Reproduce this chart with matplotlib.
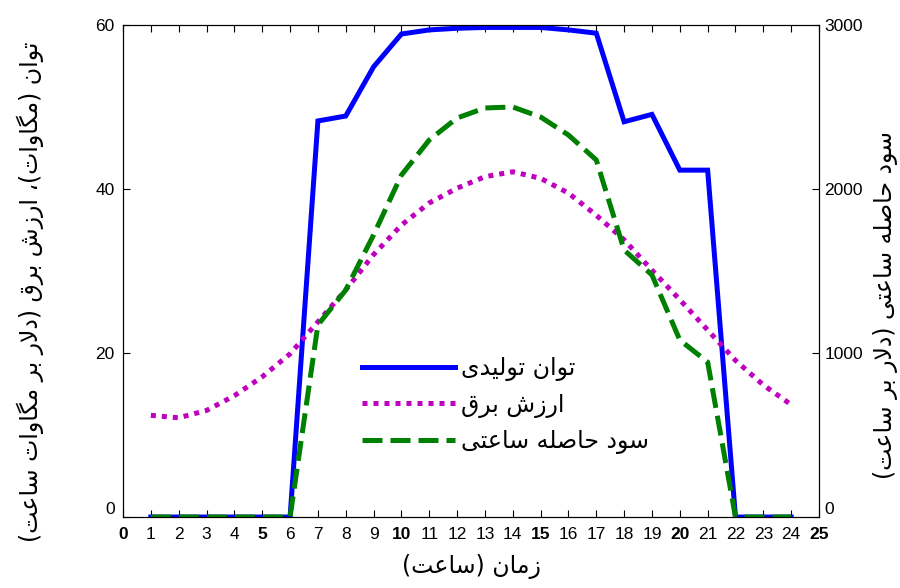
# -*- coding: utf-8 -*-
import numpy as np
import matplotlib
matplotlib.use("Agg")
import matplotlib.pyplot as plt

# datos
horas = list(range(1, 25))
potencia = [0, 0, 0, 0, 0, 0, 48.3, 48.9, 54.9, 58.9, 59.4, 59.6,
            59.7, 59.7, 59.7, 59.4, 59.0, 48.2, 49.1, 42.3, 42.3, 0, 0, 0]
precio = [12.4, 12.1, 13.0, 14.8, 17.1, 19.9, 23.8, 27.7, 32.0, 35.6, 38.3, 40.1,
          41.5, 42.1, 41.3, 39.5, 36.8, 33.8, 30.1, 26.5, 22.8, 19.1, 16.1, 13.7]
beneficio = [0, 0, 0, 0, 0, 0, 1171, 1384, 1720, 2085, 2299, 2433,
             2494, 2500, 2439, 2329, 2177, 1628, 1476, 1079, 945, 0, 0, 0]

txt_ylabel = "توان (مگاوات)، ارزش برق (دلار بر مگاوات ساعت)"
txt_y2label = "سود حاصله ساعتی (دلار بر ساعت)"
txt_xlabel = "زمان (ساعت)"
txt_leyenda = ["توان تولیدی", "ارزش برق", "سود حاصله ساعتی"]

# formas de presentacion (aislada, final, inicial, media)
formas = {
    "ا": ("\uFE8D", "\uFE8E"), "ب": ("\uFE8F", "\uFE90", "\uFE91", "\uFE92"),
    "ت": ("\uFE95", "\uFE96", "\uFE97", "\uFE98"), "ح": ("\uFEA1", "\uFEA2", "\uFEA3", "\uFEA4"),
    "د": ("\uFEA9", "\uFEAA"), "ر": ("\uFEAD", "\uFEAE"), "ز": ("\uFEAF", "\uFEB0"),
    "س": ("\uFEB1", "\uFEB2", "\uFEB3", "\uFEB4"), "ش": ("\uFEB5", "\uFEB6", "\uFEB7", "\uFEB8"),
    "ص": ("\uFEB9", "\uFEBA", "\uFEBB", "\uFEBC"), "ع": ("\uFEC9", "\uFECA", "\uFECB", "\uFECC"),
    "ق": ("\uFED5", "\uFED6", "\uFED7", "\uFED8"), "ل": ("\uFEDD", "\uFEDE", "\uFEDF", "\uFEE0"),
    "م": ("\uFEE1", "\uFEE2", "\uFEE3", "\uFEE4"), "ن": ("\uFEE5", "\uFEE6", "\uFEE7", "\uFEE8"),
    "ه": ("\uFEE9", "\uFEEA", "\uFEEB", "\uFEEC"), "و": ("\uFEED", "\uFEEE"),
    "ی": ("\uFBFC", "\uFBFD", "\uFBFE", "\uFBFF"), "گ": ("\uFB92", "\uFB93", "\uFB94", "\uFB95"),
}
espejo = {"(": ")", ")": "("}


def rtl(s):
    out = []
    i = 0
    n = len(s)
    while i < n:
        c = s[i]
        prev = s[i - 1] if i > 0 else ""
        une_prev = prev in formas and len(formas[prev]) == 4
        if c == "ل" and i + 1 < n and s[i + 1] == "ا":
            out.append("\uFEFC" if une_prev else "\uFEFB")
            i += 2
            continue
        if c in formas:
            f = formas[c]
            sig = s[i + 1] if i + 1 < n else ""
            une_sig = len(f) == 4 and sig in formas
            if une_prev and une_sig:
                out.append(f[3])
            elif une_prev:
                out.append(f[1])
            elif une_sig:
                out.append(f[2])
            else:
                out.append(f[0])
        else:
            out.append(c)
        i += 1
    return "".join(espejo.get(c, c) for c in reversed(out))


plt.rcParams['font.family'] = ['DejaVu Sans']
fig = plt.figure(figsize=(9, 5.88), dpi=100)
ax = fig.add_axes([0.1367, 0.1207, 0.7733, 0.8368])
ax2 = ax.twinx()

l1, = ax.plot(horas, potencia, color='#0000ff', lw=3.6, solid_joinstyle='miter')
l2, = ax.plot(horas, precio, color='#bf00bf', lw=3.6, linestyle=(0, (1, 1.2)))
l3, = ax2.plot(horas, beneficio, color='#008000', lw=3.6, linestyle=(0, (4, 1.6)))

ax.set_xlim(0, 25)
ax.set_ylim(0, 60)
ax2.set_ylim(0, 3000)
ax.set_xticks(range(0, 26))
ax.set_yticks([0, 20, 40, 60])
ax2.set_yticks([0, 1000, 2000, 3000])

fuente_ticks = 'Liberation Sans'
ax.tick_params(axis='x', direction='in', top=True, length=5, labelsize=12.5, pad=7)
ax.tick_params(axis='y', direction='in', length=5, labelsize=12.5, pad=6)
ax2.tick_params(axis='y', direction='in', length=5, labelsize=12.5, pad=4)
for lab in ax.get_xticklabels() + ax.get_yticklabels() + ax2.get_yticklabels():
    lab.set_fontfamily(fuente_ticks)
for k, lab in enumerate(ax.get_xticklabels()):
    if k % 5 == 0:
        lab.set_fontweight('bold')
# etiquetas 0 de los ejes y algo levantadas como en la figura
ax.get_yticklabels()[0].set_va('bottom')
ax2.get_yticklabels()[0].set_va('bottom')

ax.set_xlabel(rtl(txt_xlabel), fontsize=17)
ax.xaxis.set_label_coords(0.5, -0.075)
ax.set_ylabel(rtl(txt_ylabel), fontsize=17)
ax.yaxis.set_label_coords(-0.113, 0.457)
ax2.set_ylabel(rtl(txt_y2label), fontsize=17)
ax2.yaxis.set_label_coords(1.077, 0.43)

leg = ax.legend([l1, l2, l3], [rtl(t) for t in txt_leyenda], loc='upper left',
                bbox_to_anchor=(0.313, 0.37), frameon=False, fontsize=17,
                handlelength=3.95, handletextpad=0.25, labelspacing=0.48)

fig.savefig("out.png", dpi=100)
